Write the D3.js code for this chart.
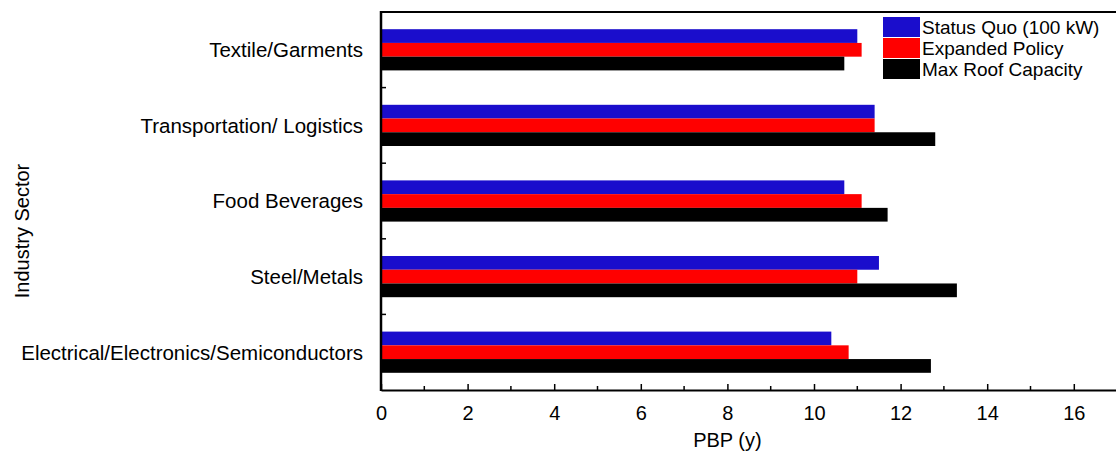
<!DOCTYPE html>
<html><head><meta charset="utf-8">
<script src="https://cdn.jsdelivr.net/npm/d3@7"></script>
<style>html,body{margin:0;padding:0;background:#fff;} svg{display:block;font-family:"Liberation Sans",Arial,sans-serif;}</style>
</head><body>
<div id="chart"></div>
<script>
const categories = ["Textile/Garments","Transportation/ Logistics","Food Beverages","Steel/Metals","Electrical/Electronics/Semiconductors"];
const seriesNames = ["Status Quo (100 kW)","Expanded Policy","Max Roof Capacity"];
const seriesColors = ["#1a0dcc","#ff0000","#000000"];
const statusQuo = [11.0, 11.4, 10.7, 11.5, 10.4];
const expandedPolicy = [11.1, 11.4, 11.1, 11.0, 10.8];
const maxRoof = [10.7, 12.8, 11.7, 13.3, 12.7];
const xTicks = [0,2,4,6,8,10,12,14,16];
const xMinorTicks = [1,3,5,7,9,11,13,15];

const W = 1116, H = 459;
const m = {left:381, top:12, bottom:390};
const svg = d3.select("#chart").append("svg").attr("width",W).attr("height",H);

const x = d3.scaleLinear().domain([0,17]).range([m.left, m.left + 17*43.3]);
const y = d3.scaleBand().domain(categories).range([m.top, m.bottom]).paddingInner(0).paddingOuter(0);
const bw = y.bandwidth();
const groupH = bw * 0.545;
const inner = d3.scaleBand().domain(seriesNames).range([(bw-groupH)/2, (bw+groupH)/2]).paddingInner(0).paddingOuter(0);

const seriesData = [statusQuo, expandedPolicy, maxRoof];
seriesData.forEach((vals, si) => {
  svg.append("g").selectAll("rect").data(categories).join("rect")
    .attr("x", x(0))
    .attr("y", c => y(c) + inner(seriesNames[si]))
    .attr("width", (c,i) => x(vals[i]) - x(0))
    .attr("height", inner.bandwidth())
    .attr("fill", seriesColors[si]);
});

// frame lines
svg.append("line").attr("x1", x(0)).attr("x2", W).attr("y1", m.top).attr("y2", m.top).attr("stroke","#000").attr("stroke-width",2);
svg.append("line").attr("x1", x(0)).attr("x2", x(0)).attr("y1", m.top-1).attr("y2", m.bottom+1).attr("stroke","#000").attr("stroke-width",2.5);

// x axis
const xAxis = svg.append("g").attr("transform",`translate(0,${m.bottom})`)
  .call(d3.axisBottom(x).tickValues(xTicks).tickSizeInner(-6).tickSizeOuter(0).tickPadding(16).tickFormat(d3.format("d")));
xAxis.select(".domain").attr("stroke-width",2);
xAxis.selectAll(".tick line").attr("stroke-width",1.5);
xAxis.selectAll("text").attr("font-size",20).attr("fill","#000").attr("font-family","Liberation Sans, Arial, sans-serif");
svg.append("g").attr("transform",`translate(0,${m.bottom})`)
  .selectAll("line").data(xMinorTicks).join("line")
  .attr("x1", d=>x(d)).attr("x2", d=>x(d)).attr("y1",0).attr("y2",-4).attr("stroke","#000").attr("stroke-width",1.5);

// y ticks at band boundaries
svg.append("g").selectAll("line").data(categories.slice(1)).join("line")
  .attr("x1", x(0)).attr("x2", x(0)+5).attr("y1", c=>y(c)).attr("y2", c=>y(c)).attr("stroke","#000").attr("stroke-width",1.5);

// category labels
svg.append("g").selectAll("text").data(categories).join("text")
  .attr("x", 363).attr("y", c => y(c) + y.bandwidth()/2).attr("dy","0.36em")
  .attr("text-anchor","end").attr("font-size",20.5).attr("fill","#000").text(c=>c);

// axis titles
svg.append("text").attr("x", x(8)).attr("y", 447).attr("text-anchor","middle").attr("font-size",20).text("PBP (y)");
svg.append("text").attr("transform",`translate(29,${(m.top+m.bottom)/2 + 30}) rotate(-90)`).attr("text-anchor","middle").attr("font-size",20).text("Industry Sector");

// legend
const lg = svg.append("g").attr("transform","translate(883,17)");
seriesNames.forEach((s,i)=>{
  lg.append("rect").attr("x",0).attr("y",i*21).attr("width",37).attr("height",20).attr("fill",seriesColors[i]);
  lg.append("text").attr("x",39).attr("y",i*21+10).attr("dy","0.36em").attr("font-size",19).text(s);
});
</script>
</body></html>
